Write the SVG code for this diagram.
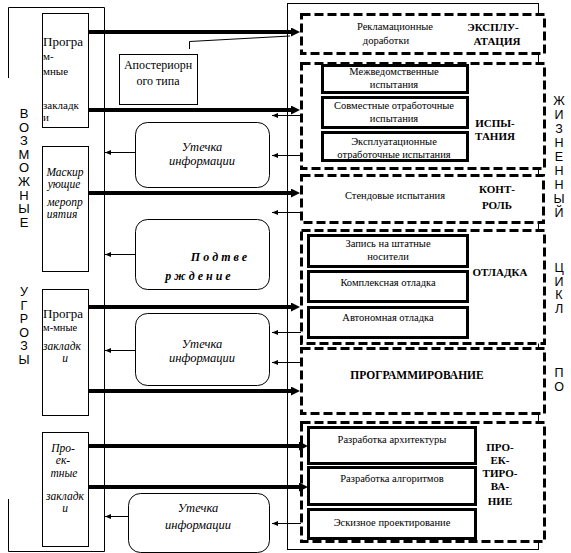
<svg xmlns="http://www.w3.org/2000/svg" width="571" height="553" viewBox="0 0 571 553">
<style>
text{font-family:"Liberation Serif","Times New Roman","DejaVu Serif",serif;fill:#000}
.sm{font-size:10.5px}
.c{text-anchor:middle}
.b{font-weight:bold;font-size:11px}
.it{font-style:italic}
.ut{font-style:italic;font-size:12.5px;text-anchor:middle}
.sans{font-family:"Liberation Sans",Arial,sans-serif;font-size:13px;text-anchor:middle}
.thin{fill:none;stroke:#000;stroke-width:1}
.box{fill:#fff;stroke:#000;stroke-width:1}
.dash{fill:#fff;stroke:#000;stroke-width:3;stroke-dasharray:9 4}
.inner{fill:#fff;stroke:#000;stroke-width:3}
.thick{stroke:#000;stroke-width:4;fill:none}
.ta{stroke:#000;stroke-width:1;fill:none}
</style>
<defs>
<marker id="ah" markerUnits="userSpaceOnUse" markerWidth="10" markerHeight="10" refX="2" refY="4.5" orient="auto"><path d="M0,0 L9,4.5 L0,9 z" fill="#000"/></marker>
<marker id="sh" markerUnits="userSpaceOnUse" markerWidth="7" markerHeight="6" refX="6" refY="2.5" orient="auto"><path d="M0,0 L6,2.5 L0,5 z" fill="#000"/></marker>
</defs>
<rect width="571" height="553" fill="#fff"/>

<g id="frames">
<path class="thin" d="M8.5,78 V7.5 H104.5 V551.5 M8.5,499 V551.5 H104.5"/>
<rect class="thin" x="287.5" y="3.5" width="251" height="546"/>
</g>

<g id="threats-label">
<text class="sans"><tspan x="24" y="118">В</tspan><tspan x="24" dy="13.6">О</tspan><tspan x="24" dy="13.6">З</tspan><tspan x="24" dy="13.6">М</tspan><tspan x="24" dy="13.6">О</tspan><tspan x="24" dy="13.6">Ж</tspan><tspan x="24" dy="13.6">Н</tspan><tspan x="24" dy="13.6">Ы</tspan><tspan x="24" dy="13.6">Е</tspan></text>
<text class="sans" style="font-size:12.5px"><tspan x="24" y="296">У</tspan><tspan x="24" dy="13.5">Г</tspan><tspan x="24" dy="13.5">Р</tspan><tspan x="24" dy="13.5">О</tspan><tspan x="24" dy="13.5">З</tspan><tspan x="24" dy="13.5">Ы</tspan></text>
</g>

<g id="lifecycle-label">
<text class="sans" style="font-size:12.5px"><tspan x="559" y="105">Ж</tspan><tspan x="559" dy="14">И</tspan><tspan x="559" dy="14">З</tspan><tspan x="559" dy="14">Н</tspan><tspan x="559" dy="14">Е</tspan><tspan x="559" dy="14">Н</tspan><tspan x="559" dy="14">Н</tspan><tspan x="559" dy="14">Ы</tspan><tspan x="559" dy="14">Й</tspan></text>
<text class="sans" style="font-size:12.5px"><tspan x="559" y="272">Ц</tspan><tspan x="559" dy="13.5">И</tspan><tspan x="559" dy="13.5">К</tspan><tspan x="559" dy="13.5">Л</tspan></text>
<text class="sans" style="font-size:12.5px"><tspan x="559" y="377">П</tspan><tspan x="559" dy="13.5">О</tspan></text>
</g>

<g id="prog-zakladki-1">
<rect class="box" x="42.5" y="13.5" width="46" height="114"/>
<text x="43" y="46" style="font-size:13px">Програ</text>
<text x="43" y="60" style="font-size:11px">м-</text>
<text x="43" y="75" style="font-size:11px">мные</text>
<text x="43" y="109" style="font-size:11px">закладк</text>
<text x="43" y="121" style="font-size:11px">и</text>
</g>

<g id="maskiruyushchie">
<rect class="box" x="42.5" y="146.5" width="46" height="125"/>
<text class="it c" x="65" y="176" style="font-size:11.5px">Маскир</text>
<text class="it c" x="64" y="188" style="font-size:11.5px">ующие</text>
<text class="it c" x="65" y="206" style="font-size:11.5px">меропр</text>
<text class="it c" x="62" y="218" style="font-size:11.5px">иятия</text>
</g>

<g id="prog-zakladki-2">
<rect class="box" x="42.5" y="289.5" width="46" height="126"/>
<text x="43" y="318" style="font-size:13px">Програ</text>
<text x="43" y="331" style="font-size:10.5px">м-мные</text>
<text class="it" x="43" y="350" style="font-size:11.5px">закладк</text>
<text class="it c" x="65" y="362" style="font-size:11.5px">и</text>
</g>

<g id="proektnye-zakladki">
<rect class="box" x="42.5" y="432.5" width="46" height="114"/>
<text class="it c" x="63" y="452" style="font-size:11.5px">Про-</text>
<text class="it c" x="63" y="464" style="font-size:11.5px">ек-</text>
<text class="it c" x="64" y="477" style="font-size:11.5px">тные</text>
<text class="it c" x="65" y="500" style="font-size:11.5px">закладк</text>
<text class="it c" x="65" y="512" style="font-size:11.5px">и</text>
</g>

<g id="aposteriornogo">
<rect class="box" x="119.5" y="54.5" width="78" height="50"/>
<text class="c" x="158" y="69" style="font-size:12px">Апостериорн</text>
<text class="c" x="158" y="85" style="font-size:12px">ого типа</text>
</g>

<g id="utechka-1">
<rect class="box" x="135.5" y="122.5" width="134" height="65" rx="12"/>
<text class="ut" x="202" y="151">Утечка</text>
<text class="ut" x="202" y="165">информации</text>
</g>

<g id="podtverzhdenie">
<rect class="box" x="135.5" y="219.5" width="134" height="70" rx="12"/>
<text class="it c" x="219" y="261" style="font-size:12px;font-weight:bold">П о д т в е</text>
<text class="it c" x="198" y="280" style="font-size:12px;font-weight:bold">р ж д е н и е</text>
</g>

<g id="utechka-2">
<rect class="box" x="135.5" y="313.5" width="134" height="72" rx="12"/>
<text class="ut" x="202" y="348">Утечка</text>
<text class="ut" x="202" y="362">информации</text>
</g>

<g id="utechka-3">
<rect class="box" x="128.5" y="493.5" width="141" height="59" rx="12"/>
<text class="ut" x="198" y="512">Утечка</text>
<text class="ut" x="198" y="529">информации</text>
</g>

<g id="ekspluatatsiya">
<rect class="dash" x="301.5" y="14.5" width="243" height="39"/>
<text class="sm c" x="395" y="30">Рекламационные</text>
<text class="sm c" x="386" y="44">доработки</text>
<text class="b c" x="493" y="31">ЭКСПЛУ-</text>
<text class="b c" x="497" y="45">АТАЦИЯ</text>
</g>

<g id="ispytaniya">
<rect class="dash" x="301.5" y="63.5" width="243" height="105"/>
<rect class="inner" x="322.5" y="65.5" width="145" height="27"/>
<rect class="inner" x="322.5" y="97.5" width="145" height="30"/>
<rect class="inner" x="322.5" y="132.5" width="145" height="28"/>
<text class="sm c" x="394" y="75">Межведомственные</text>
<text class="sm c" x="394" y="88">испытания</text>
<text class="sm c" x="394" y="109">Совместные отработочные</text>
<text class="sm c" x="394" y="122">испытания</text>
<text class="sm c" x="394" y="145">Эксплуатационные</text>
<text class="sm c" x="394" y="158">отработочные испытания</text>
<text class="b c" x="495" y="127">ИСПЫ-</text>
<text class="b c" x="495" y="140">ТАНИЯ</text>
</g>

<g id="kontrol">
<rect class="dash" x="301.5" y="175.5" width="242" height="47"/>
<text class="sm c" x="395" y="199">Стендовые испытания</text>
<text class="b c" x="497" y="193">КОНТ-</text>
<text class="b c" x="497" y="209">РОЛЬ</text>
</g>

<g id="otladka">
<rect class="dash" x="301.5" y="230.5" width="243" height="113"/>
<rect class="inner" x="308.5" y="235.5" width="159" height="31"/>
<rect class="inner" x="308.5" y="271.5" width="159" height="30"/>
<rect class="inner" x="308.5" y="307.5" width="159" height="30"/>
<text class="sm c" x="388" y="247">Запись на штатные</text>
<text class="sm c" x="388" y="260">носители</text>
<text class="sm c" x="388" y="286">Комплексная отладка</text>
<text class="sm c" x="388" y="321">Автономная отладка</text>
<text class="b c" x="500" y="276">ОТЛАДКА</text>
</g>

<g id="programmirovanie">
<rect class="dash" x="301.5" y="348.5" width="243" height="65"/>
<text class="b c" x="417" y="379" style="font-size:11.5px">ПРОГРАММИРОВАНИЕ</text>
</g>

<g id="proektirovanie">
<rect class="dash" x="301.5" y="422.5" width="243" height="119"/>
<rect class="inner" x="308.5" y="427.5" width="167" height="36"/>
<rect class="inner" x="308.5" y="467.5" width="167" height="37"/>
<rect class="inner" x="308.5" y="509.5" width="167" height="29"/>
<text class="sm c" x="392" y="443">Разработка архитектуры</text>
<text class="sm c" x="392" y="482">Разработка алгоритмов</text>
<text class="sm c" x="392" y="526">Эскизное проектирование</text>
<text class="b c" x="500" y="451">ПРО-</text>
<text class="b c" x="500" y="464">ЕК-</text>
<text class="b c" x="500" y="477">ТИРО-</text>
<text class="b c" x="500" y="490">ВА-</text>
<text class="b c" x="500" y="505">НИЕ</text>
</g>

<g id="connectors">
<path class="thick" marker-end="url(#ah)" d="M88,32 H293"/>
<path class="thick" marker-end="url(#ah)" d="M88,110 H293"/>
<path class="thick" marker-end="url(#ah)" d="M88,193 H293"/>
<path class="thick" marker-end="url(#ah)" d="M88,307 H293"/>
<path class="thick" marker-end="url(#ah)" d="M88,391 H293"/>
<path class="thick" marker-end="url(#ah)" d="M88,446 H301"/>
<path class="thick" marker-end="url(#ah)" d="M88,487 H301"/>
<path class="ta" d="M189.5,49 V41.5 L290,36"/>
<path class="ta" marker-end="url(#sh)" d="M301,115.5 H272"/>
<path class="ta" marker-end="url(#sh)" d="M301,155.5 H272"/>
<path class="ta" marker-end="url(#sh)" d="M301,212.5 H272"/>
<path class="ta" marker-end="url(#sh)" d="M301,332.5 H272"/>
<path class="ta" marker-end="url(#sh)" d="M301,362.5 H272"/>
<path class="ta" marker-end="url(#sh)" d="M301,523.5 H272"/>
<path class="ta" marker-end="url(#sh)" d="M135,152.5 H105"/>
<path class="ta" marker-end="url(#sh)" d="M135,254.5 H105"/>
<path class="ta" marker-end="url(#sh)" d="M135,350.5 H105"/>
<path class="ta" marker-end="url(#sh)" d="M128,516.5 H105"/>
</g>
</svg>
